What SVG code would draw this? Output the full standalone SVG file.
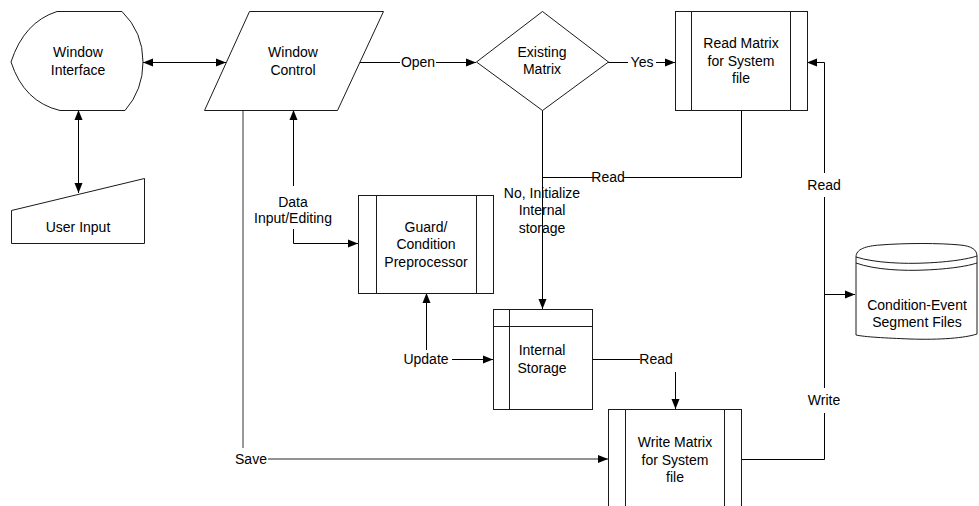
<svg xmlns="http://www.w3.org/2000/svg" width="979" height="506" viewBox="0 0 979 506">
  <defs>
    <style>
      text { font-family: "Liberation Sans", Arial, sans-serif; font-size: 14px; fill: #000; text-anchor: middle; }
      .shape { fill: #fff; stroke: #1a1a1a; stroke-width: 1; }
      .inner { fill: none; stroke: #1a1a1a; stroke-width: 1; }
      .conn { fill: none; stroke: #000; stroke-width: 1; }
      .save { fill: none; stroke: #6e6e6e; stroke-width: 1.4; }
    </style>
    <marker id="arrow" viewBox="0 0 10 10" refX="10" refY="5" markerWidth="10" markerHeight="10" markerUnits="userSpaceOnUse" orient="auto-start-reverse">
      <path d="M0,1 L10,5 L0,9 Z" fill="#000"/>
    </marker>
  </defs>
  <rect width="979" height="506" fill="#fff"/>

  <!-- Connectors -->
  <g id="connectors">
    <!-- Window Interface <-> Window Control -->
    <line class="conn" x1="143" y1="62.5" x2="226" y2="62.5" marker-start="url(#arrow)" marker-end="url(#arrow)"/>
    <!-- Window Interface <-> User Input -->
    <line class="conn" x1="78.5" y1="110" x2="78.5" y2="193" marker-start="url(#arrow)" marker-end="url(#arrow)"/>
    <!-- Save -->
    <polyline class="save" points="243,110 243,448"/>
    <text x="251" y="464">Save</text>
    <line class="save" x1="268" y1="459" x2="608" y2="459" marker-end="url(#arrow)"/>
    <!-- Data Input/Editing -->
    <line class="conn" x1="293.5" y1="186" x2="293.5" y2="110" marker-end="url(#arrow)"/>
    <text x="293" y="207">Data</text>
    <text x="293" y="223">Input/Editing</text>
    <polyline class="conn" points="293.5,229 293.5,243.5 358,243.5" marker-end="url(#arrow)"/>
    <!-- Open -->
    <line class="conn" x1="359" y1="62.5" x2="400" y2="62.5"/>
    <text x="418" y="67">Open</text>
    <line class="conn" x1="436" y1="62.5" x2="476" y2="62.5" marker-end="url(#arrow)"/>
    <!-- Yes -->
    <line class="conn" x1="608" y1="62.5" x2="628" y2="62.5"/>
    <text x="642" y="67">Yes</text>
    <line class="conn" x1="656" y1="62.5" x2="675" y2="62.5" marker-end="url(#arrow)"/>
    <!-- Read Matrix -> Internal storage path -->
    <polyline class="conn" points="741.5,110 741.5,177.5 623,177.5"/>
    <text x="608" y="182">Read</text>
    <line class="conn" x1="593" y1="177.5" x2="542.5" y2="177.5"/>
    <!-- Existing Matrix -> Internal Storage -->
    <line class="conn" x1="542.5" y1="110" x2="542.5" y2="309" marker-end="url(#arrow)"/>
    <text x="542" y="198">No, Initialize</text>
    <text x="542" y="215">Internal</text>
    <text x="542" y="233">storage</text>
    <!-- Update -->
    <line class="conn" x1="426.5" y1="350" x2="426.5" y2="293" marker-end="url(#arrow)"/>
    <text x="426" y="364">Update</text>
    <line class="conn" x1="452" y1="359.5" x2="493" y2="359.5" marker-end="url(#arrow)"/>
    <!-- Internal Storage -> Write Matrix -->
    <line class="conn" x1="592" y1="359.5" x2="640" y2="359.5"/>
    <text x="656" y="364">Read</text>
    <line class="conn" x1="675.5" y1="372" x2="675.5" y2="409" marker-end="url(#arrow)"/>
    <!-- Write / Read with segment files -->
    <polyline class="conn" points="741,459.5 824.5,459.5 824.5,413"/>
    <text x="824" y="405">Write</text>
    <line class="conn" x1="824.5" y1="388" x2="824.5" y2="197"/>
    <text x="824" y="190">Read</text>
    <polyline class="conn" points="824.5,173 824.5,62.5 807,62.5" marker-end="url(#arrow)"/>
    <line class="conn" x1="824.5" y1="294.5" x2="855" y2="294.5" marker-end="url(#arrow)"/>
  </g>

  <!-- Window Interface (display) -->
  <g id="window-interface">
    <path class="shape" d="M57,11.5 L122,11.5 Q143,32 143,62 Q143,90 125,110.5 L60,110.5 Q24,102 11,62 Q24,22 57,11.5 Z"/>
    <text x="78" y="57">Window</text>
    <text x="78" y="75">Interface</text>
  </g>

  <!-- User Input (manual input) -->
  <g id="user-input">
    <path class="shape" d="M11.5,210.5 L144.5,178.5 L144.5,243.5 L11.5,243.5 Z"/>
    <text x="78" y="232">User Input</text>
  </g>

  <!-- Window Control (parallelogram) -->
  <g id="window-control">
    <path class="shape" d="M249.5,11.5 L383.5,11.5 L337.5,110.5 L204.5,110.5 Z"/>
    <text x="293" y="57">Window</text>
    <text x="293" y="75">Control</text>
  </g>

  <!-- Existing Matrix (decision) -->
  <g id="existing-matrix">
    <path class="shape" d="M542.5,11.5 L608.5,62 L542.5,110.5 L476.5,62 Z"/>
    <text x="542" y="57">Existing</text>
    <text x="542" y="74">Matrix</text>
  </g>

  <!-- Read Matrix for System file -->
  <g id="read-matrix">
    <rect class="shape" x="675.5" y="11.5" width="132" height="99"/>
    <line class="inner" x1="691.5" y1="11.5" x2="691.5" y2="110.5"/>
    <line class="inner" x1="790.5" y1="11.5" x2="790.5" y2="110.5"/>
    <text x="741" y="48">Read Matrix</text>
    <text x="741" y="66">for System</text>
    <text x="741" y="83">file</text>
  </g>

  <!-- Guard/Condition Preprocessor -->
  <g id="guard-preprocessor">
    <rect class="shape" x="358.5" y="195.5" width="135" height="98"/>
    <line class="inner" x1="376.5" y1="195.5" x2="376.5" y2="293.5"/>
    <line class="inner" x1="476.5" y1="195.5" x2="476.5" y2="293.5"/>
    <text x="426" y="232">Guard/</text>
    <text x="426" y="249">Condition</text>
    <text x="426" y="267">Preprocessor</text>
  </g>

  <!-- Internal Storage -->
  <g id="internal-storage">
    <rect class="shape" x="493.5" y="309.5" width="99" height="100"/>
    <line class="inner" x1="493.5" y1="326.5" x2="592.5" y2="326.5"/>
    <line class="inner" x1="509.5" y1="309.5" x2="509.5" y2="409.5"/>
    <text x="542" y="355">Internal</text>
    <text x="542" y="373">Storage</text>
  </g>

  <!-- Write Matrix for System file -->
  <g id="write-matrix">
    <rect class="shape" x="608.5" y="409.5" width="133" height="110"/>
    <line class="inner" x1="625.5" y1="409.5" x2="625.5" y2="519"/>
    <line class="inner" x1="724.5" y1="409.5" x2="724.5" y2="519"/>
    <text x="675" y="447">Write Matrix</text>
    <text x="675" y="465">for System</text>
    <text x="675" y="482">file</text>
  </g>

  <!-- Condition-Event Segment Files (stored data) -->
  <g id="segment-files">
    <path class="shape" d="M856,257 C856,249 866,246 880,245 C905,243 940,243 960,245 C972,246 977,250 977,256 L977,334 C965,338 940,340 910,339 C885,338 865,337 856,335 Z"/>
    <path class="inner" d="M856,257 C875,263 905,264 925,263 C950,262 968,259 977,256"/>
    <path class="inner" d="M856,263 C875,270 905,271 925,270 C950,269 968,266 977,263"/>
    <text x="917" y="310">Condition-Event</text>
    <text x="917" y="327">Segment Files</text>
  </g>
</svg>
